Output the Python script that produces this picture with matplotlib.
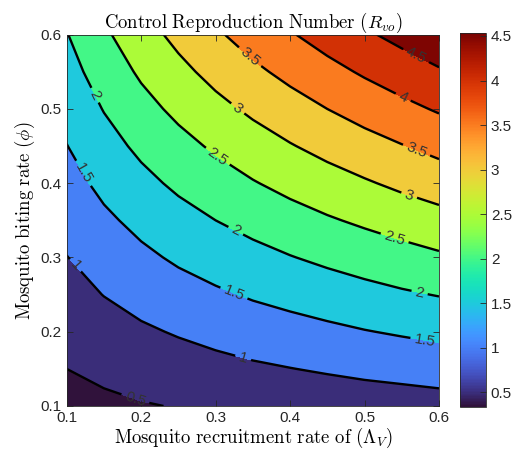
import matplotlib
matplotlib.use("Agg")
import matplotlib.pyplot as plt
import numpy as np
from matplotlib import cm, colors

plt.rcParams['mathtext.fontset'] = 'cm'
plt.rcParams['font.family'] = ['Liberation Sans', 'DejaVu Sans']

# grid of the picture: mosquito recruitment rate (x) and biting rate (y)
lam_vals = [0.10, 0.15, 0.20, 0.25, 0.30, 0.35, 0.40, 0.45, 0.50, 0.55, 0.60]
phi_vals = [0.10, 0.15, 0.20, 0.25, 0.30, 0.35, 0.40, 0.45, 0.50, 0.55, 0.60]

# R_vo values, one row per phi value
r_vals = [
    [0.33, 0.40, 0.47, 0.52, 0.57, 0.62, 0.66, 0.70, 0.74, 0.77, 0.81],
    [0.50, 0.61, 0.70, 0.78, 0.86, 0.93, 0.99, 1.05, 1.11, 1.16, 1.21],
    [0.66, 0.81, 0.93, 1.04, 1.14, 1.24, 1.32, 1.40, 1.48, 1.55, 1.62],
    [0.83, 1.01, 1.17, 1.31, 1.43, 1.55, 1.65, 1.75, 1.85, 1.94, 2.02],
    [0.99, 1.21, 1.40, 1.57, 1.72, 1.85, 1.98, 2.10, 2.21, 2.32, 2.43],
    [1.16, 1.41, 1.63, 1.83, 2.00, 2.16, 2.31, 2.45, 2.58, 2.71, 2.83],
    [1.32, 1.62, 1.87, 2.09, 2.29, 2.47, 2.64, 2.80, 2.95, 3.10, 3.24],
    [1.49, 1.82, 2.10, 2.35, 2.57, 2.78, 2.97, 3.15, 3.32, 3.48, 3.64],
    [1.65, 2.02, 2.34, 2.61, 2.86, 3.09, 3.30, 3.50, 3.69, 3.87, 4.05],
    [1.82, 2.22, 2.57, 2.87, 3.15, 3.40, 3.63, 3.85, 4.06, 4.26, 4.45],
    [1.98, 2.42, 2.80, 3.13, 3.43, 3.71, 3.96, 4.20, 4.43, 4.64, 4.85],
]

contour_levels = [0.5, 1.0, 1.5, 2.0, 2.5, 3.0, 3.5, 4.0, 4.5]
cbar_ticks = [0.5, 1, 1.5, 2, 2.5, 3, 3.5, 4, 4.5]
clim = (0.34, 4.53)

# where the inline labels sit (data coords)
label_pos = [
    (0.193, 0.112),
    (0.108, 0.286), (0.337, 0.165),
    (0.122, 0.413), (0.325, 0.253), (0.581, 0.189),
    (0.139, 0.519), (0.326, 0.334), (0.574, 0.253),
    (0.302, 0.435), (0.541, 0.328),
    (0.330, 0.501), (0.561, 0.387),
    (0.346, 0.570), (0.570, 0.445),
    (0.552, 0.516),
    (0.570, 0.573),
]

X, Y = np.meshgrid(lam_vals, phi_vals)
Z = np.array(r_vals)

cmap = matplotlib.colormaps['turbo']
norm = colors.Normalize(*clim)
fill_levels = [Z.min() - 0.01] + contour_levels + [Z.max() + 0.01]
band_colors = [cmap(norm(max(lv, clim[0]))) for lv in fill_levels[:-1]]

fig = plt.figure(figsize=(5.15, 4.59), dpi=100)
ax = fig.add_axes([0.1295, 0.1155, 0.7229, 0.8089])

ax.contourf(X, Y, Z, levels=fill_levels, colors=band_colors)
cs = ax.contour(X, Y, Z, levels=contour_levels, colors='black', linewidths=1.7)
ax.clabel(cs, manual=label_pos, inline=True, inline_spacing=4, fontsize=11,
          colors='#333333', fmt='%g')

ax.set_xlim(0.1, 0.6)
ax.set_ylim(0.1, 0.6)
ax.set_xticks([0.1, 0.2, 0.3, 0.4, 0.5, 0.6])
ax.set_yticks([0.1, 0.2, 0.3, 0.4, 0.5, 0.6])
ax.tick_params(direction='in', length=4, width=0.6, top=True, right=True,
               labelsize=11, colors='#262626')
for s in ax.spines.values():
    s.set_linewidth(0.6)
    s.set_color('#262626')

ax.set_title(r'$\mathrm{Control\ Reproduction\ Number\ }(R_{vo})$', fontsize=13.5, pad=5)
ax.set_xlabel(r'$\mathrm{Mosquito\ recruitment\ rate\ of\ }(\Lambda_V)$', fontsize=13.5, labelpad=1)
ax.set_ylabel(r'$\mathrm{Mosquito\ biting\ rate\ }(\phi)$', fontsize=13.5, labelpad=3)

cax = fig.add_axes([0.893, 0.114, 0.0505, 0.8135])
sm = cm.ScalarMappable(norm=norm, cmap=cmap)
cb = fig.colorbar(sm, cax=cax, ticks=cbar_ticks)
cb.ax.set_yticklabels(['0.5', '1', '1.5', '2', '2.5', '3', '3.5', '4', '4.5'])
cb.ax.tick_params(direction='in', length=4, width=0.6, labelsize=11, colors='#262626')
cb.outline.set_linewidth(0.6)
cb.outline.set_edgecolor('#262626')

fig.savefig('out.png', dpi=100)
